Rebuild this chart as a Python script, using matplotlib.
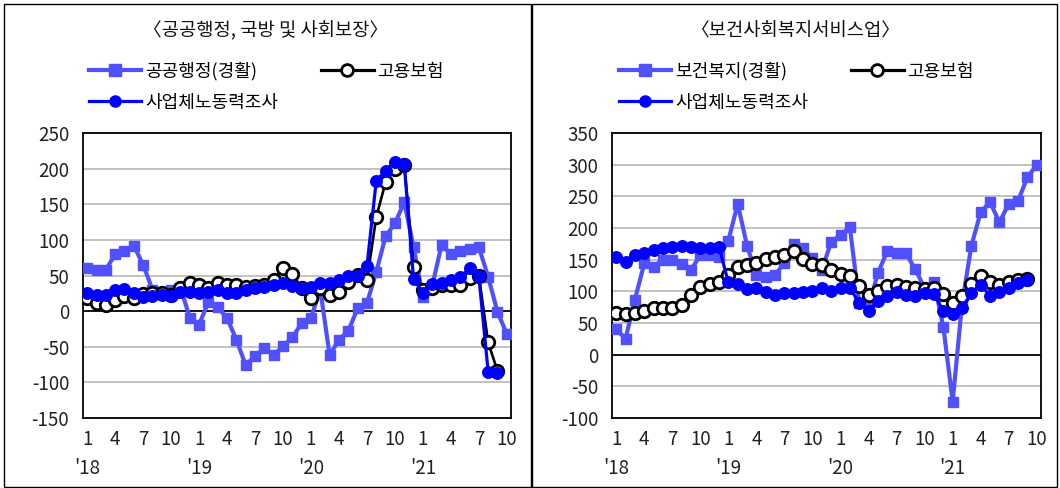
import matplotlib
matplotlib.use("Agg")
import matplotlib.pyplot as plt
from matplotlib.lines import Line2D
from matplotlib.patches import Rectangle
import numpy as np

plt.rcParams['font.family'] = ['Noto Sans CJK KR', 'DejaVu Sans']

# ---------------- data ----------------
months = list(range(46))  # Jan 2018 .. Oct 2021
month_labels = ['1', '4', '7', '10'] * 4
month_tick_idx = list(range(0, 46, 3))
year_labels = ["'18", "'19", "'20", "'21"]
year_tick_idx = [0, 12, 24, 36]

left_title = "〈공공행정, 국방 및 사회보장〉"
right_title = "〈보건사회복지서비스업〉"

left_names = ['공공행정(경활)', '고용보험', '사업체노동력조사']
right_names = ['보건복지(경활)', '고용보험', '사업체노동력조사']

pub_lfs = [60, 58, 58, 80, 85, 92, 65, 30, 27, 30, 33, -9, -19, 13, 6, -10, -40, -76, -63, -52,
           -62, -49, -37, -17, -9, 30, -62, -40, -28, 4, 11, 55, 105, 123, 153, 90, 20, 35, 93, 80,
           85, 87, 90, 48, -1, -32]
pub_ei = [18, 11, 8, 16, 21, 18, 24, 25, 26, 22, 32, 40, 36, 32, 40, 37, 37, 34, 35, 36,
          44, 61, 52, 32, 18, 32, 22, 27, 41, 51, 43, 132, 181, 199, 205, 62, 30, 32, 36, 36,
          37, 47, 50, -44, -84]
pub_ces = [25, 22, 22, 29, 31, 25, 20, 21, 22, 21, 27, 27, 25, 27, 29, 25, 25, 29, 33, 34,
           37, 40, 35, 32, 34, 40, 40, 43, 50, 49, 63, 183, 197, 210, 207, 45, 26, 38, 40, 44,
           48, 60, 49, -85, -87]

hw_lfs = [40, 25, 87, 144, 139, 150, 150, 143, 134, 157, 157, 155, 180, 238, 172, 126, 123, 126, 145, 175,
          168, 152, 134, 178, 189, 201, 82, 75, 129, 163, 160, 160, 135, 105, 115, 44, -74, 80, 172, 225,
          241, 209, 238, 243, 280, 300]
hw_ei = [66, 64, 66, 69, 73, 74, 74, 78, 94, 107, 112, 114, 126, 139, 142, 145, 151, 155, 158, 164,
         151, 143, 141, 134, 127, 124, 108, 94, 100, 108, 110, 107, 106, 103, 105, 96, 81, 92, 111, 124,
         115, 110, 114, 118, 119]
hw_ces = [155, 147, 158, 160, 165, 168, 170, 172, 170, 168, 168, 170, 114, 112, 103, 105, 99, 94, 97, 97,
          99, 101, 105, 100, 106, 106, 81, 69, 85, 93, 99, 95, 93, 98, 96, 69, 65, 73, 98, 110,
          93, 99, 106, 113, 118]

left_yticks = list(range(-150, 251, 50))
right_yticks = list(range(-100, 351, 50))

# ---------------- style ----------------
C_LIGHT = '#5050FF'
C_BLUE = '#0000FF'
C_BLACK = '#000000'
TXT = '#222222'

W, H = 1060, 488
fig = plt.figure(figsize=(W / 100, H / 100), dpi=100)


def fx(px):
    return px / W


def fy(py):
    return 1 - py / H


# panel frames
fig.add_artist(Rectangle((fx(3.5), fy(487)), fx(528), fy(3.5) - fy(487), transform=fig.transFigure,
                         fill=False, edgecolor='black', lw=1.0))
fig.add_artist(Rectangle((fx(531.5), fy(487)), fx(525), fy(3.5) - fy(487), transform=fig.transFigure,
                         fill=False, edgecolor='black', lw=1.0))


def draw_panel(ax_rect, lfs, ei, ces, yticks, title, title_x, names, leg_x):
    ax = fig.add_axes(ax_rect)
    x_lfs = months[:len(lfs)]
    x_ei = months[:len(ei)]
    x_ces = months[:len(ces)]
    ax.plot(x_lfs, lfs, color=C_LIGHT, lw=3.0, marker='s', ms=7.5, mfc=C_LIGHT, mec=C_LIGHT, zorder=3)
    ax.plot(x_ei, ei, color=C_BLACK, lw=1.9, marker='o', ms=9, mfc='white', mec=C_BLACK, mew=2.0, zorder=4)
    ax.plot(x_ces, ces, color=C_BLUE, lw=2.3, marker='o', ms=8.3, mfc=C_BLUE, mec=C_BLUE, zorder=5)

    ax.set_xlim(-0.45, 45.45)
    ax.set_ylim(yticks[0], yticks[-1])
    ax.set_yticks(yticks)
    ax.set_yticklabels([str(v) for v in yticks])
    ax.set_xticks(month_tick_idx)
    ax.set_xticklabels(month_labels)
    ax.tick_params(axis='both', length=0, labelsize=13.5, colors=TXT)
    ax.tick_params(axis='y', pad=10)
    ax.tick_params(axis='x', pad=8)
    for v in yticks:
        if v == 0:
            ax.axhline(0, color='black', lw=1.3, zorder=2)
        else:
            ax.axhline(v, color='#bdbdbd', lw=1.3, zorder=1)
    for s in ax.spines.values():
        s.set_color('black')
        s.set_linewidth(1.3)
    for idx, lab in zip(year_tick_idx, year_labels):
        ax.text(idx, -0.14, lab, transform=ax.get_xaxis_transform(), ha='center', va='top',
                fontsize=13.5, color=TXT)

    fig.text(fx(title_x), fy(31), title, ha='center', va='center', fontsize=13.5, color='#111111')

    handles = [
        Line2D([], [], color=C_LIGHT, lw=3.0, marker='s', ms=9, mfc=C_LIGHT, mec=C_LIGHT),
        Line2D([], [], color=C_BLUE, lw=2.3, marker='o', ms=8, mfc=C_BLUE, mec=C_BLUE),
        Line2D([], [], color=C_BLACK, lw=2.3, marker='o', ms=8.5, mfc='white', mec=C_BLACK, mew=2.0),
    ]
    labels = [names[0], names[2], names[1]]
    ax.legend(handles, labels, loc='upper left', bbox_to_anchor=(fx(leg_x), fy(62)),
              bbox_transform=fig.transFigure, ncol=2, frameon=False, fontsize=13,
              handlelength=2.9, handletextpad=0.2, columnspacing=2.4, labelspacing=0.72,
              borderpad=0, borderaxespad=0)
    return ax


draw_panel([fx(83), fy(418), fx(428), fy(133) - fy(418)], pub_lfs, pub_ei, pub_ces, left_yticks,
           left_title, 266, left_names, 89)
draw_panel([fx(612), fy(418), fx(429), fy(133) - fy(418)], hw_lfs, hw_ei, hw_ces, right_yticks,
           right_title, 796, right_names, 619)

fig.savefig('out.png', dpi=100)
